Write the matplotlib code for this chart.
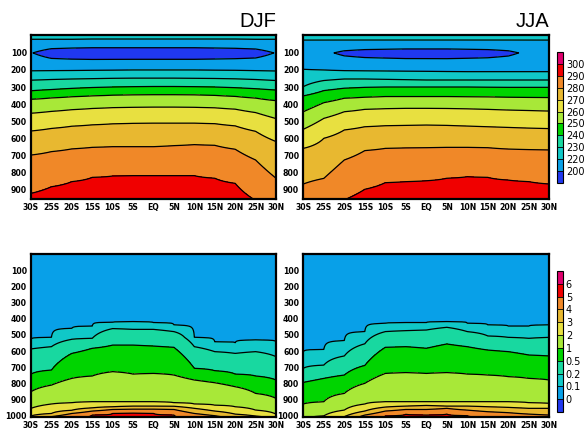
import numpy as np
import matplotlib
matplotlib.use('Agg')
import matplotlib.pyplot as plt

# latitudes of the data columns (deg, S negative)
lat = [-30, -25, -20, -15, -10, -5, 0, 5, 10, 15, 20, 25, 30]
lat_labels = ['30S', '25S', '20S', '15S', '10S', '5S', 'EQ', '5N', '10N', '15N', '20N', '25N', '30N']

### temperature (K): pressure (hPa) where each contour level is crossed ###
t_levels = [200, 220, 230, 240, 250, 260, 270, 280, 290, 300]

djf_t_top220 = [20, 20, 20, 19, 19, 19, 19, 19, 19, 19, 19, 20, 20]
djf_t_min = [201, 191, 189, 188, 188, 188, 188, 188, 188, 189, 190, 192, 201]
djf_t = {
    220: [205, 204, 203, 202, 201, 200, 200, 200, 200, 201, 202, 204, 206],
    230: [260, 256, 253, 251, 249, 248, 248, 248, 249, 250, 252, 256, 262],
    240: [322, 315, 308, 303, 300, 298, 297, 297, 298, 300, 304, 310, 318],
    250: [372, 364, 357, 352, 348, 346, 345, 345, 346, 349, 355, 365, 380],
    260: [454, 443, 433, 426, 421, 419, 418, 418, 419, 422, 430, 450, 485],
    270: [558, 543, 530, 522, 516, 513, 512, 512, 512, 515, 528, 560, 620],
    280: [699, 679, 663, 654, 650, 650, 650, 644, 638, 642, 665, 728, 835],
    290: [924, 885, 855, 830, 822, 820, 820, 820, 820, 835, 865, 965, 1010],
}

jja_t_top220 = [25, 25, 25, 25, 25, 25, 25, 25, 25, 25, 25, 25, 25]
jja_t_min = [208, 204, 196, 193, 192, 191, 191, 191, 192, 193, 196, 204, 208]
jja_t = {
    220: [196, 200, 204, 205, 206, 207, 208, 209, 210, 210, 210, 210, 210],
    230: [298, 262, 253, 253, 255, 257, 259, 259, 259, 259, 259, 259, 259],
    240: [352, 321, 307, 302, 300, 300, 300, 300, 300, 301, 302, 302, 302],
    250: [445, 392, 366, 360, 356, 356, 356, 356, 357, 358, 360, 361, 362],
    260: [548, 484, 445, 431, 427, 425, 425, 426, 428, 431, 435, 438, 441],
    270: [660, 601, 552, 533, 527, 525, 523, 525, 529, 533, 537, 541, 544],
    280: [869, 836, 728, 673, 660, 657, 656, 654, 654, 656, 664, 667, 669],
    290: [1000, 990, 962, 900, 861, 855, 850, 835, 826, 830, 846, 855, 869],
}

### moisture: pressure (hPa) where each contour level is crossed ###
q_levels = [0, 0.1, 0.2, 0.5, 1, 2, 3, 4, 5, 6]
q_labels = ['0', '0.1', '0.2', '0.5', '1', '2', '3', '4', '5', '6']

djf_q = {
    0.1: [527, 515, 458, 444, 420, 417, 423, 437, 515, 542, 548, 531, 542],
    0.2: [587, 573, 527, 521, 460, 465, 465, 479, 573, 604, 615, 604, 635],
    0.5: [744, 719, 615, 583, 563, 563, 569, 577, 708, 723, 744, 756, 781],
    1: [854, 813, 771, 756, 729, 744, 740, 750, 781, 798, 823, 865, 896],
    2: [958, 931, 923, 917, 917, 917, 917, 923, 931, 938, 948, 969, 994],
    3: [1005, 990, 970, 955, 948, 944, 944, 945, 958, 975, 994, 1006, 1020],
    4: [1030, 1010, 990, 975, 965, 963, 963, 965, 990, 1004, 1020, 1030, 1040],
    5: [1060, 1040, 1015, 1000, 990, 988, 990, 1000, 1020, 1040, 1060, 1070, 1080],
}

jja_q = {
    0.1: [604, 590, 535, 479, 427, 423, 423, 417, 427, 437, 444, 444, 437],
    0.2: [708, 688, 631, 555, 479, 473, 469, 452, 479, 506, 515, 521, 515],
    0.5: [796, 771, 750, 690, 577, 573, 583, 556, 573, 594, 604, 625, 631],
    1: [931, 917, 865, 802, 740, 735, 740, 735, 744, 750, 760, 771, 781],
    2: [1030, 1005, 969, 931, 917, 917, 917, 917, 917, 917, 917, 923, 927],
    3: [1060, 1030, 1010, 975, 950, 944, 940, 944, 944, 948, 952, 958, 958],
    4: [1090, 1060, 1030, 1000, 975, 965, 965, 958, 969, 979, 985, 994, 1000],
    5: [1120, 1090, 1060, 1030, 1005, 995, 1000, 994, 1004, 1015, 1030, 1040, 1050],
}

colors = ['#2038f0', '#08a0e8', '#10c8c8', '#18d8a0', '#00d400', '#a8e838',
          '#e8e040', '#e8b830', '#f08828', '#f00000', '#e0006e']

pres = np.arange(-10, 1101, 2.0)


def temp_field(top220, tmin, cross):
    cols = []
    for j in range(len(lat)):
        kp = [-10, top220[j], 100] + [cross[v][j] for v in sorted(cross)] + [1100]
        kv = [224, 220, tmin[j]] + sorted(cross) + [297]
        cols.append(np.interp(pres, kp, kv))
    return np.array(cols).T


def q_field(cross):
    cols = []
    for j in range(len(lat)):
        kp = [-10] + [cross[v][j] for v in sorted(cross)] + [1200]
        kv = [0.05] + sorted(cross) + [5.9]
        cols.append(np.interp(pres, kp, kv))
    return np.array(cols).T


fig = plt.figure(figsize=(5.87, 4.29), dpi=100)

panels = [
    ([0.0528, 0.5361, 0.4174, 0.3823], temp_field(djf_t_top220, djf_t_min, djf_t), t_levels, (957, -5), 'DJF'),
    ([0.5167, 0.5361, 0.4191, 0.3823], temp_field(jja_t_top220, jja_t_min, jja_t), t_levels, (957, -5), 'JJA'),
    ([0.0528, 0.0280, 0.4174, 0.3800], q_field(djf_q), q_levels, (1012, -6), None),
    ([0.5167, 0.0280, 0.4191, 0.3800], q_field(jja_q), q_levels, (1012, -6), None),
]

sets = []
for rect, field, levels, ylim, title in panels:
    ax = fig.add_axes(rect)
    cf = ax.contourf(lat, pres, field, levels=levels, colors=colors[1:-1], extend='both')
    cf.cmap.set_under(colors[0])
    cf.cmap.set_over(colors[-1])
    ax.contour(lat, pres, field, levels=levels, colors='k', linewidths=0.9)
    ax.set_xlim(-30, 30)
    ax.set_ylim(*ylim)
    ax.set_xticks(lat)
    ax.set_xticklabels(lat_labels)
    if ylim[0] > 1000:
        ax.set_yticks(range(100, 1001, 100))
    else:
        ax.set_yticks(range(100, 901, 100))
    ax.tick_params(length=0, labelsize=5.6, pad=3)
    for lab in ax.get_xticklabels() + ax.get_yticklabels():
        lab.set_fontweight('bold')
    for s in ax.spines.values():
        s.set_linewidth(1.6)
    if title:
        ax.set_title(title, loc='right', fontsize=14.5, family='Liberation Sans', pad=6)
    sets.append(cf)

# one colorbar per row, NCL style boxes
cb_rects = [[0.949, 0.5734, 0.0102, 0.3054], [0.949, 0.0396, 0.0102, 0.3287]]
cb_sets = [sets[1], sets[3]]
cb_ticks = [t_levels, q_levels]
cb_labels = [[str(v) for v in t_levels], q_labels]
for k in range(2):
    cax = fig.add_axes(cb_rects[k])
    cb = fig.colorbar(cb_sets[k], cax=cax, spacing='uniform',
                      extendrect=True, extendfrac=1 / 9, drawedges=True)
    cb.set_ticks(cb_ticks[k])
    cb.set_ticklabels(cb_labels[k])
    cb.ax.tick_params(length=0, labelsize=7, pad=2)
    cb.outline.set_linewidth(0.8)
    cb.dividers.set_linewidth(0.6)

plt.savefig('out.png', dpi=100)
